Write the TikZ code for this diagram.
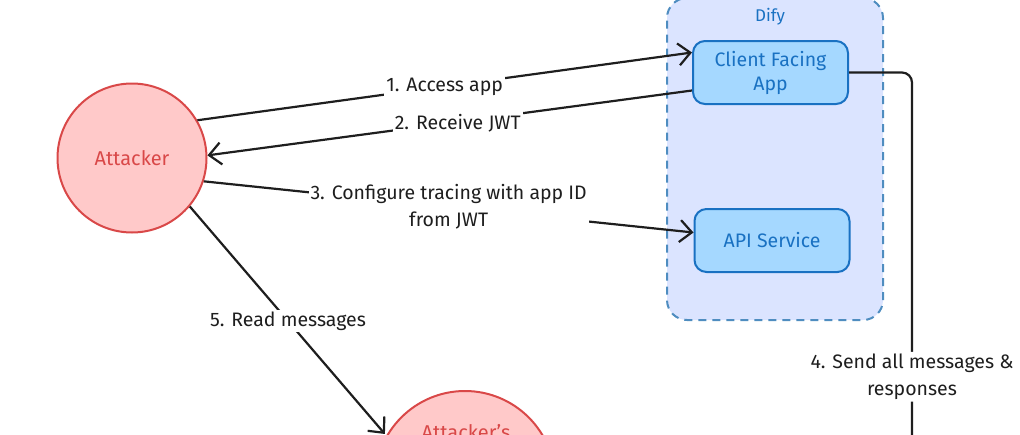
\documentclass[tikz,border=0pt]{standalone}
\usepackage{fontspec}
\setmainfont{Fira Sans}
\usetikzlibrary{arrows.meta}
\usepackage{xcolor}
\definecolor{inkdark}{HTML}{1E1E1E}
\definecolor{difyfill}{HTML}{DBE4FF}
\definecolor{difyline}{HTML}{4F8DC0}
\definecolor{boxfill}{HTML}{A5D8FF}
\definecolor{boxline}{HTML}{1971C2}
\definecolor{attackfill}{HTML}{FFC9C9}
\definecolor{attackline}{HTML}{D94848}

\begin{document}
\begin{tikzpicture}[x=1pt, y=-1pt,
  person/.style={draw=attackline, fill=attackfill, circle, line width=2pt, text=attackline, font=\fontsize{20}{26}\selectfont},
  service/.style={draw=boxline, fill=boxfill, rounded corners=12pt, line width=2pt, minimum width=155pt, minimum height=63pt, align=center, text=boxline, font=\fontsize{19.5}{24}\selectfont},
  group/.style={draw=difyline, fill=difyfill, dashed, dash pattern=on 8pt off 6pt, rounded corners=20pt, line width=2pt, minimum width=216pt, minimum height=322pt},
  flow/.style={draw=inkdark, line width=2.2pt, -{Straight Barb[length=12pt,width=22pt,line width=2.2pt]}},
  step label/.style={fill=white, inner sep=2pt, align=center, text=inkdark, font=\fontsize{19.5}{27}\selectfont}
]
  \useasboundingbox (0,0) rectangle (1020,434);

  \node[group] (dify) at (775,159) {};
  \node[text=boxline, font=\fontsize{17}{20}\selectfont] (difylabel) at (770,17) {Dify};

  \node[service] (cfa) at (770.5,72.5) {Client Facing\\App};
  \node[service] (api) at (772,240.5) {API Service};

  \node[person, minimum size=149pt] (attacker) at (132,158) {Attacker};
  \node[person, minimum size=180pt] (store) at (465,481) {};
  \node[text=attackline, font=\fontsize{20}{26}\selectfont, anchor=base] (storelabel) at (466,439) {Attacker's};

  \coordinate (sink) at (912,520);

  \draw[flow] (attacker.30) -- node[step label] {1. Access app} ([yshift=20pt]cfa.west);
  \draw[flow] ([yshift=-18pt]cfa.west) -- node[step label, xshift=8pt] {2. Receive JWT} (attacker.2);
  \draw[flow] (attacker.-18) -- node[step label] {3. Configure tracing with app ID\\from JWT} ([yshift=8pt]api.west);
  \draw[flow, rounded corners=10pt] (cfa.east) -| node[step label, pos=0.84] {4. Send all messages \&\\responses} (sink);
  \draw[flow, shorten >=2pt] (attacker.-40) -- node[step label] {5. Read messages} (store.150);
\end{tikzpicture}
\end{document}
